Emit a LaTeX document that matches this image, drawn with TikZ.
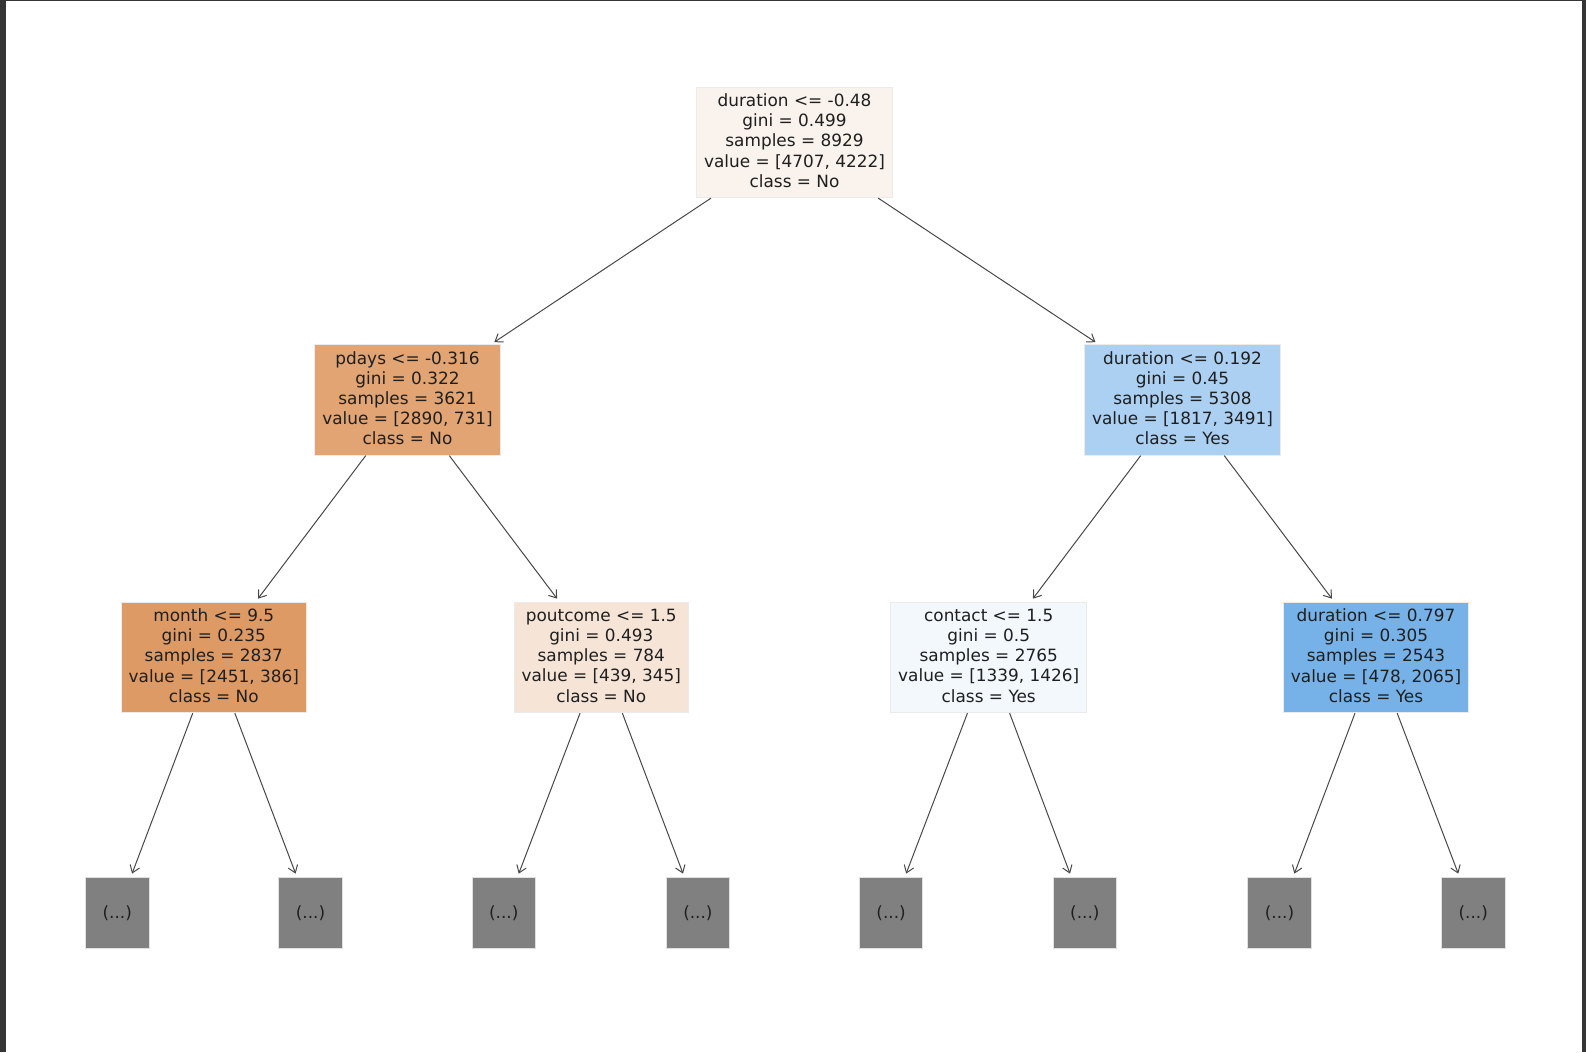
\documentclass[tikz,border=0pt]{standalone}
\usepackage{fontspec}
\setmainfont{DejaVu Sans}
\usetikzlibrary{arrows.meta}
\definecolor{framegray}{RGB}{53,53,53}
\definecolor{leafgray}{RGB}{128,128,128}
\definecolor{arrowgray}{RGB}{72,72,72}
\definecolor{c0}{RGB}{249,242,237}
\definecolor{c1}{RGB}{226,164,114}
\definecolor{c2}{RGB}{172,208,241}
\definecolor{c3}{RGB}{222,154,100}
\definecolor{c4}{RGB}{246,229,215}
\definecolor{c5}{RGB}{243,248,252}
\definecolor{c6}{RGB}{118,178,231}
\begin{document}
\begin{tikzpicture}[x=1pt,y=-1pt,
    splitbox/.style={rectangle,align=center,minimum height=110.5pt,inner xsep=7.5pt,inner ysep=0pt,
      draw=black!8,line width=0.8pt,text=black!88,font=\fontsize{16.9}{20.2}\selectfont,
      execute at begin node={\rule{0pt}{16.3pt}},execute at end node={\rule[-4pt]{0pt}{4pt}}},
    leafbox/.style={rectangle,fill=leafgray,draw=black!12,line width=0.8pt,minimum width=63.5pt,
      minimum height=70.5pt,inner sep=0pt,text=black!88,font=\fontsize{16.9}{20.2}\selectfont}]
  \fill[framegray] (0,0) rectangle (1586,1052);
  \fill[white] (6,1) rectangle (1582,1052);
  \draw
    (794.5,142.5) node[splitbox,fill=c0] (0){duration <= -0.48\\gini = 0.499\\samples = 8929\\value = [4707, 4222]\\class = No}
    (407.5,400) node[splitbox,fill=c1] (1){pdays <= -0.316\\gini = 0.322\\samples = 3621\\value = [2890, 731]\\class = No}
    (1182.5,400) node[splitbox,fill=c2] (2){duration <= 0.192\\gini = 0.45\\samples = 5308\\value = [1817, 3491]\\class = Yes}
    (213.8,657.5) node[splitbox,fill=c3] (3){month <= 9.5\\gini = 0.235\\samples = 2837\\value = [2451, 386]\\class = No}
    (601.3,657.5) node[splitbox,fill=c4] (4){poutcome <= 1.5\\gini = 0.493\\samples = 784\\value = [439, 345]\\class = No}
    (988.7,657.5) node[splitbox,fill=c5] (5){contact <= 1.5\\gini = 0.5\\samples = 2765\\value = [1339, 1426]\\class = Yes}
    (1376,657.5) node[splitbox,fill=c6] (6){duration <= 0.797\\gini = 0.305\\samples = 2543\\value = [478, 2065]\\class = Yes}
    (117.2,913) node[leafbox] (7){(...)}
    (310.5,913) node[leafbox] (8){(...)}
    (503.7,913) node[leafbox] (9){(...)}
    (697.9,913) node[leafbox] (10){(...)}
    (891.1,913) node[leafbox] (11){(...)}
    (1084.8,913) node[leafbox] (12){(...)}
    (1279.5,913) node[leafbox] (13){(...)}
    (1473.2,913) node[leafbox] (14){(...)};
  \begin{scope}[-{Straight Barb[length=7pt,width=10pt]},arrowgray,line width=1pt,shorten >=4pt]
    \draw (0) to (1);
    \draw (0) to (2);
    \draw (1) to (3);
    \draw (1) to (4);
    \draw (2) to (5);
    \draw (2) to (6);
    \draw (3) to (7);
    \draw (3) to (8);
    \draw (4) to (9);
    \draw (4) to (10);
    \draw (5) to (11);
    \draw (5) to (12);
    \draw (6) to (13);
    \draw (6) to (14);
  \end{scope}
\end{tikzpicture}
\end{document}
